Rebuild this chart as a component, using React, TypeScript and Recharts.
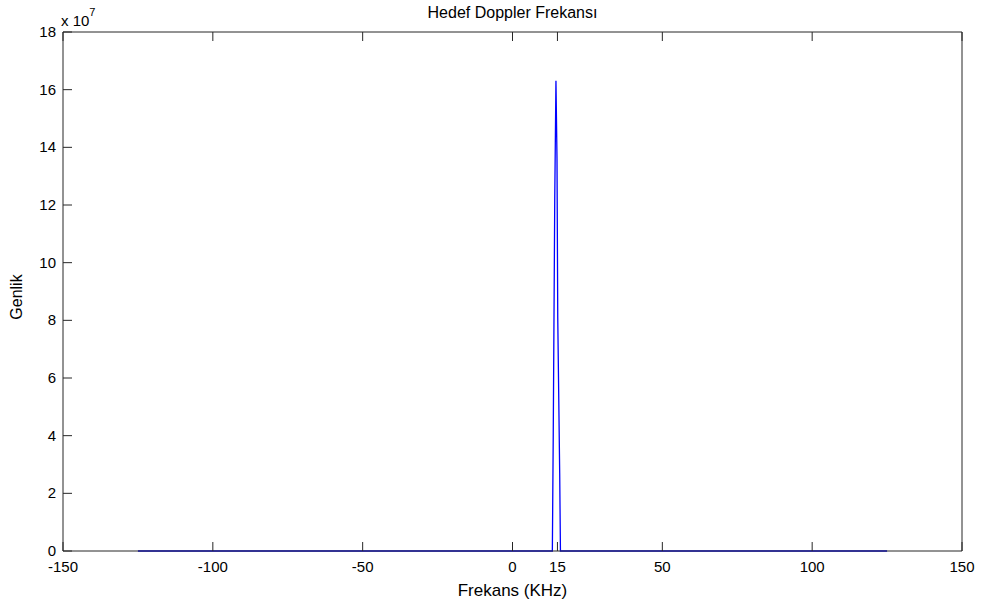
import { LineChart, Line, XAxis, YAxis, Label } from 'recharts';

// Doppler spectrum (kHz vs amplitude)
const FREQ_KHZ = [-125, 13.3, 13.6, 14.1, 14.5, 14.85, 15.1, 15.75, 16.0, 125];
const AMPLITUDE = [0, 0, 4.06e7, 12.24e7, 16.31e7, 13.6e7, 8.1e7, 2.7e7, 0, 0];
const X_TICKS = [-150, -100, -50, 0, 15, 50, 100, 150];
const Y_TICKS = [0, 2e7, 4e7, 6e7, 8e7, 10e7, 12e7, 14e7, 16e7, 18e7];

const data = FREQ_KHZ.map((f, i) => ({ f, a: AMPLITUDE[i] }));

const FONT = 'Liberation Sans, Arial, sans-serif';
const AXIS = '#262626';
const TICK_LEN = 9;

const BottomTick = (props: any) => {
  const { x, y, payload } = props;
  return (
    <g>
      <line x1={x} x2={x} y1={y} y2={y - TICK_LEN} stroke={AXIS} />
      <text x={x} y={y + 21} textAnchor="middle" fontSize={15} fontFamily={FONT} fill="#000">
        {payload.value}
      </text>
    </g>
  );
};

const TopTick = (props: any) => {
  const { x, y } = props;
  return <line x1={x} x2={x} y1={y} y2={y + TICK_LEN} stroke={AXIS} />;
};

const LeftTick = (props: any) => {
  const { x, y, payload } = props;
  return (
    <g>
      <line x1={x} x2={x + TICK_LEN} y1={y} y2={y} stroke={AXIS} />
      <text x={x - 7} y={y + 5} textAnchor="end" fontSize={15} fontFamily={FONT} fill="#000">
        {payload.value / 1e7}
      </text>
    </g>
  );
};

const RightTick = (props: any) => {
  const { x, y } = props;
  return <line x1={x} x2={x - TICK_LEN} y1={y} y2={y} stroke={AXIS} />;
};

export default function App() {
  return (
    <div style={{ position: 'absolute', left: 0, top: 0, width: 981, height: 608, background: '#fff' }}>
      <LineChart width={981} height={608} data={data} margin={{ top: 31, right: 18, bottom: 0, left: 0 }}>
        <XAxis
          xAxisId="b"
          dataKey="f"
          type="number"
          domain={[-150, 150]}
          ticks={X_TICKS}
          height={57}
          tickSize={0}
          tickMargin={0}
          tickLine={false}
          stroke={AXIS}
          tick={<BottomTick />}
          allowDataOverflow
        >
          <Label value="Frekans (KHz)" position="insideBottom" offset={12} fontSize={17} fontFamily={FONT} fill="#000" />
        </XAxis>
        <XAxis
          xAxisId="t"
          orientation="top"
          dataKey="f"
          type="number"
          domain={[-150, 150]}
          ticks={X_TICKS}
          height={1}
          tickSize={0}
          tickMargin={0}
          tickLine={false}
          stroke={AXIS}
          tick={<TopTick />}
        />
        <YAxis
          yAxisId="l"
          type="number"
          domain={[0, 18e7]}
          ticks={Y_TICKS}
          width={63}
          tickSize={0}
          tickMargin={0}
          tickLine={false}
          stroke={AXIS}
          tick={<LeftTick />}
        />
        <YAxis
          yAxisId="r"
          orientation="right"
          type="number"
          domain={[0, 18e7]}
          ticks={Y_TICKS}
          width={1}
          tickSize={0}
          tickMargin={0}
          tickLine={false}
          stroke={AXIS}
          tick={<RightTick />}
        />
        <Line
          xAxisId="b"
          yAxisId="l"
          dataKey="a"
          type="linear"
          stroke="#0000ff"
          strokeWidth={1.3}
          dot={false}
          isAnimationActive={false}
        />
      </LineChart>
      <div style={{ position: 'absolute', left: 63, width: 899, top: 4, textAlign: 'center', fontFamily: FONT, fontSize: 16, color: '#000' }}>
        Hedef Doppler Frekansı
      </div>
      <div
        style={{
          position: 'absolute', left: 17, top: 297, transform: 'translate(-50%, -50%) rotate(-90deg)',
          fontFamily: FONT, fontSize: 16, color: '#000', whiteSpace: 'nowrap',
        }}
      >
        Genlik
      </div>
      <div style={{ position: 'absolute', left: 61, top: 9, fontFamily: FONT, fontSize: 15, color: '#000', lineHeight: '15px' }}>
        x 10<sup style={{ fontSize: 11, position: 'relative', top: -4 }}>7</sup>
      </div>
    </div>
  );
}
